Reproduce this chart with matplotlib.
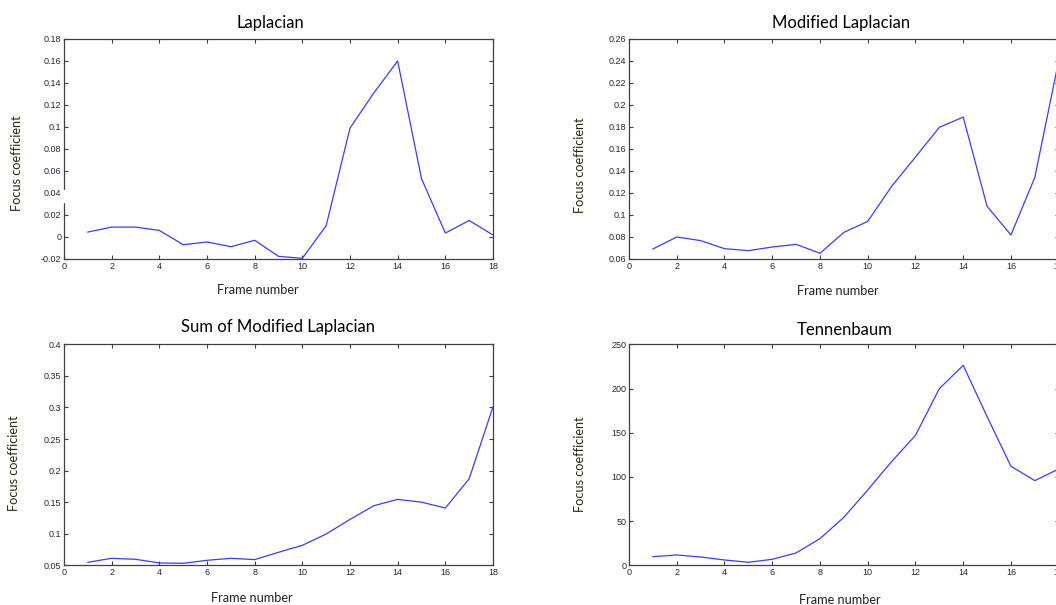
import matplotlib
matplotlib.use("Agg")
import matplotlib.pyplot as plt
from matplotlib.patches import Rectangle

W, H = 1056, 605

frames = list(range(1, 19))

laplacian = [0.0045, 0.009, 0.009, 0.006, -0.007, -0.0045, -0.0088, -0.003, -0.0176,
             -0.0194, 0.0103, 0.099, 0.131, 0.160, 0.053, 0.0036, 0.015, 0.0018]
mod_laplacian = [0.0691, 0.080, 0.0767, 0.0694, 0.0676, 0.0709, 0.0733, 0.0652, 0.0842,
                 0.0942, 0.126, 0.1527, 0.1797, 0.189, 0.1079, 0.0818, 0.1342, 0.2404]
sum_mod_laplacian = [0.0547, 0.0611, 0.0595, 0.0537, 0.0532, 0.0579, 0.0611, 0.059, 0.0706,
                     0.0816, 0.0996, 0.1227, 0.1444, 0.1544, 0.150, 0.1407, 0.187, 0.301]
tennenbaum = [9.8, 11.7, 9.4, 6.0, 3.4, 6.8, 14.0, 30.2, 54.3,
              85.2, 117.3, 147.0, 199.8, 226.2, 168.2, 112.0, 95.8, 109.0]

titles = ["Laplacian", "Modified Laplacian", "Sum of Modified Laplacian", "Tennenbaum"]

x_ticks = [0, 2, 4, 6, 8, 10, 12, 14, 16, 18]
x_labels = ["0", "2", "4", "6", "8", "10", "12", "14", "16", "18"]

y_ticks = [
    [-0.02, 0, 0.02, 0.04, 0.06, 0.08, 0.1, 0.12, 0.14, 0.16, 0.18],
    [0.06, 0.08, 0.1, 0.12, 0.14, 0.16, 0.18, 0.2, 0.22, 0.24, 0.26],
    [0.05, 0.1, 0.15, 0.2, 0.25, 0.3, 0.35, 0.4],
    [0, 50, 100, 150, 200, 250],
]
y_labels = [
    ["-0.02", "0", "0.02", "0.04", "0.06", "0.08", "0.1", "0.12", "0.14", "0.16", "0.18"],
    ["0.06", "0.08", "0.1", "0.12", "0.14", "0.16", "0.18", "0.2", "0.22", "0.24", "0.26"],
    ["0.05", "0.1", "0.15", "0.2", "0.25", "0.3", "0.35", "0.4"],
    ["0", "50", "100", "150", "200", "250"],
]
series = [laplacian, mod_laplacian, sum_mod_laplacian, tennenbaum]

# axes boxes in pixels: left, top, right, bottom (right column runs off the image)
boxes = [(64, 39, 493, 259), (629, 39, 1058.7, 259),
         (64, 344.3, 493, 565.3), (629, 344.3, 1058.7, 565.3)]
# label positions in pixels
title_pos = [(270, 23), (841, 23), (278, 327), (845, 330)]
xlab_pos = [(258, 290), (838, 291), (252, 598), (840, 600)]
ylab_pos = [(17, 163), (580, 165), (14, 463), (580, 464)]

fig = plt.figure(figsize=(W / 100, H / 100), dpi=100)
lab_font = ["Lato", "Open Sans", "DejaVu Sans"]
tick_font = "Liberation Sans"

for i in range(4):
    l, t, r, b = boxes[i]
    ax = fig.add_axes([l / W, 1 - b / H, (r - l) / W, (b - t) / H])
    ax.plot(frames, series[i], color="#3b3bff", lw=0.9)
    ax.set_xlim(0, 18)
    ax.set_ylim(y_ticks[i][0], y_ticks[i][-1])
    ax.set_xticks(x_ticks)
    ax.set_xticklabels(x_labels)
    ax.set_yticks(y_ticks[i])
    ax.set_yticklabels(y_labels[i])
    ax.tick_params(direction="in", length=3, width=0.8, top=True, right=True,
                   labelsize=6.5, labelcolor="#262636", color="#404040", pad=2)
    for lab in ax.get_xticklabels() + ax.get_yticklabels():
        lab.set_fontfamily(tick_font)
    for s in ax.spines.values():
        s.set_color("#404040")
        s.set_linewidth(0.9)

    tx, ty = title_pos[i]
    fig.text(tx / W, 1 - ty / H, titles[i], ha="center", va="center",
             fontsize=12, family=lab_font, color="black")
    xx, xy = xlab_pos[i]
    fig.text(xx / W, 1 - xy / H, "Frame number", ha="center", va="center",
             fontsize=9.2, family=lab_font, color="#222222")
    yx, yy = ylab_pos[i]
    fig.text(yx / W, 1 - yy / H, "Focus coefficient", ha="center", va="center",
             rotation=90, fontsize=9.2, family=lab_font, color="#2a2a10")

# white gap on the first y axis as in the source image
fig.patches.append(Rectangle((60 / W, 1 - 202 / H), 8 / W, 12 / H,
                             transform=fig.transFigure, color="white", zorder=5))

fig.savefig("out.png", dpi=100)
